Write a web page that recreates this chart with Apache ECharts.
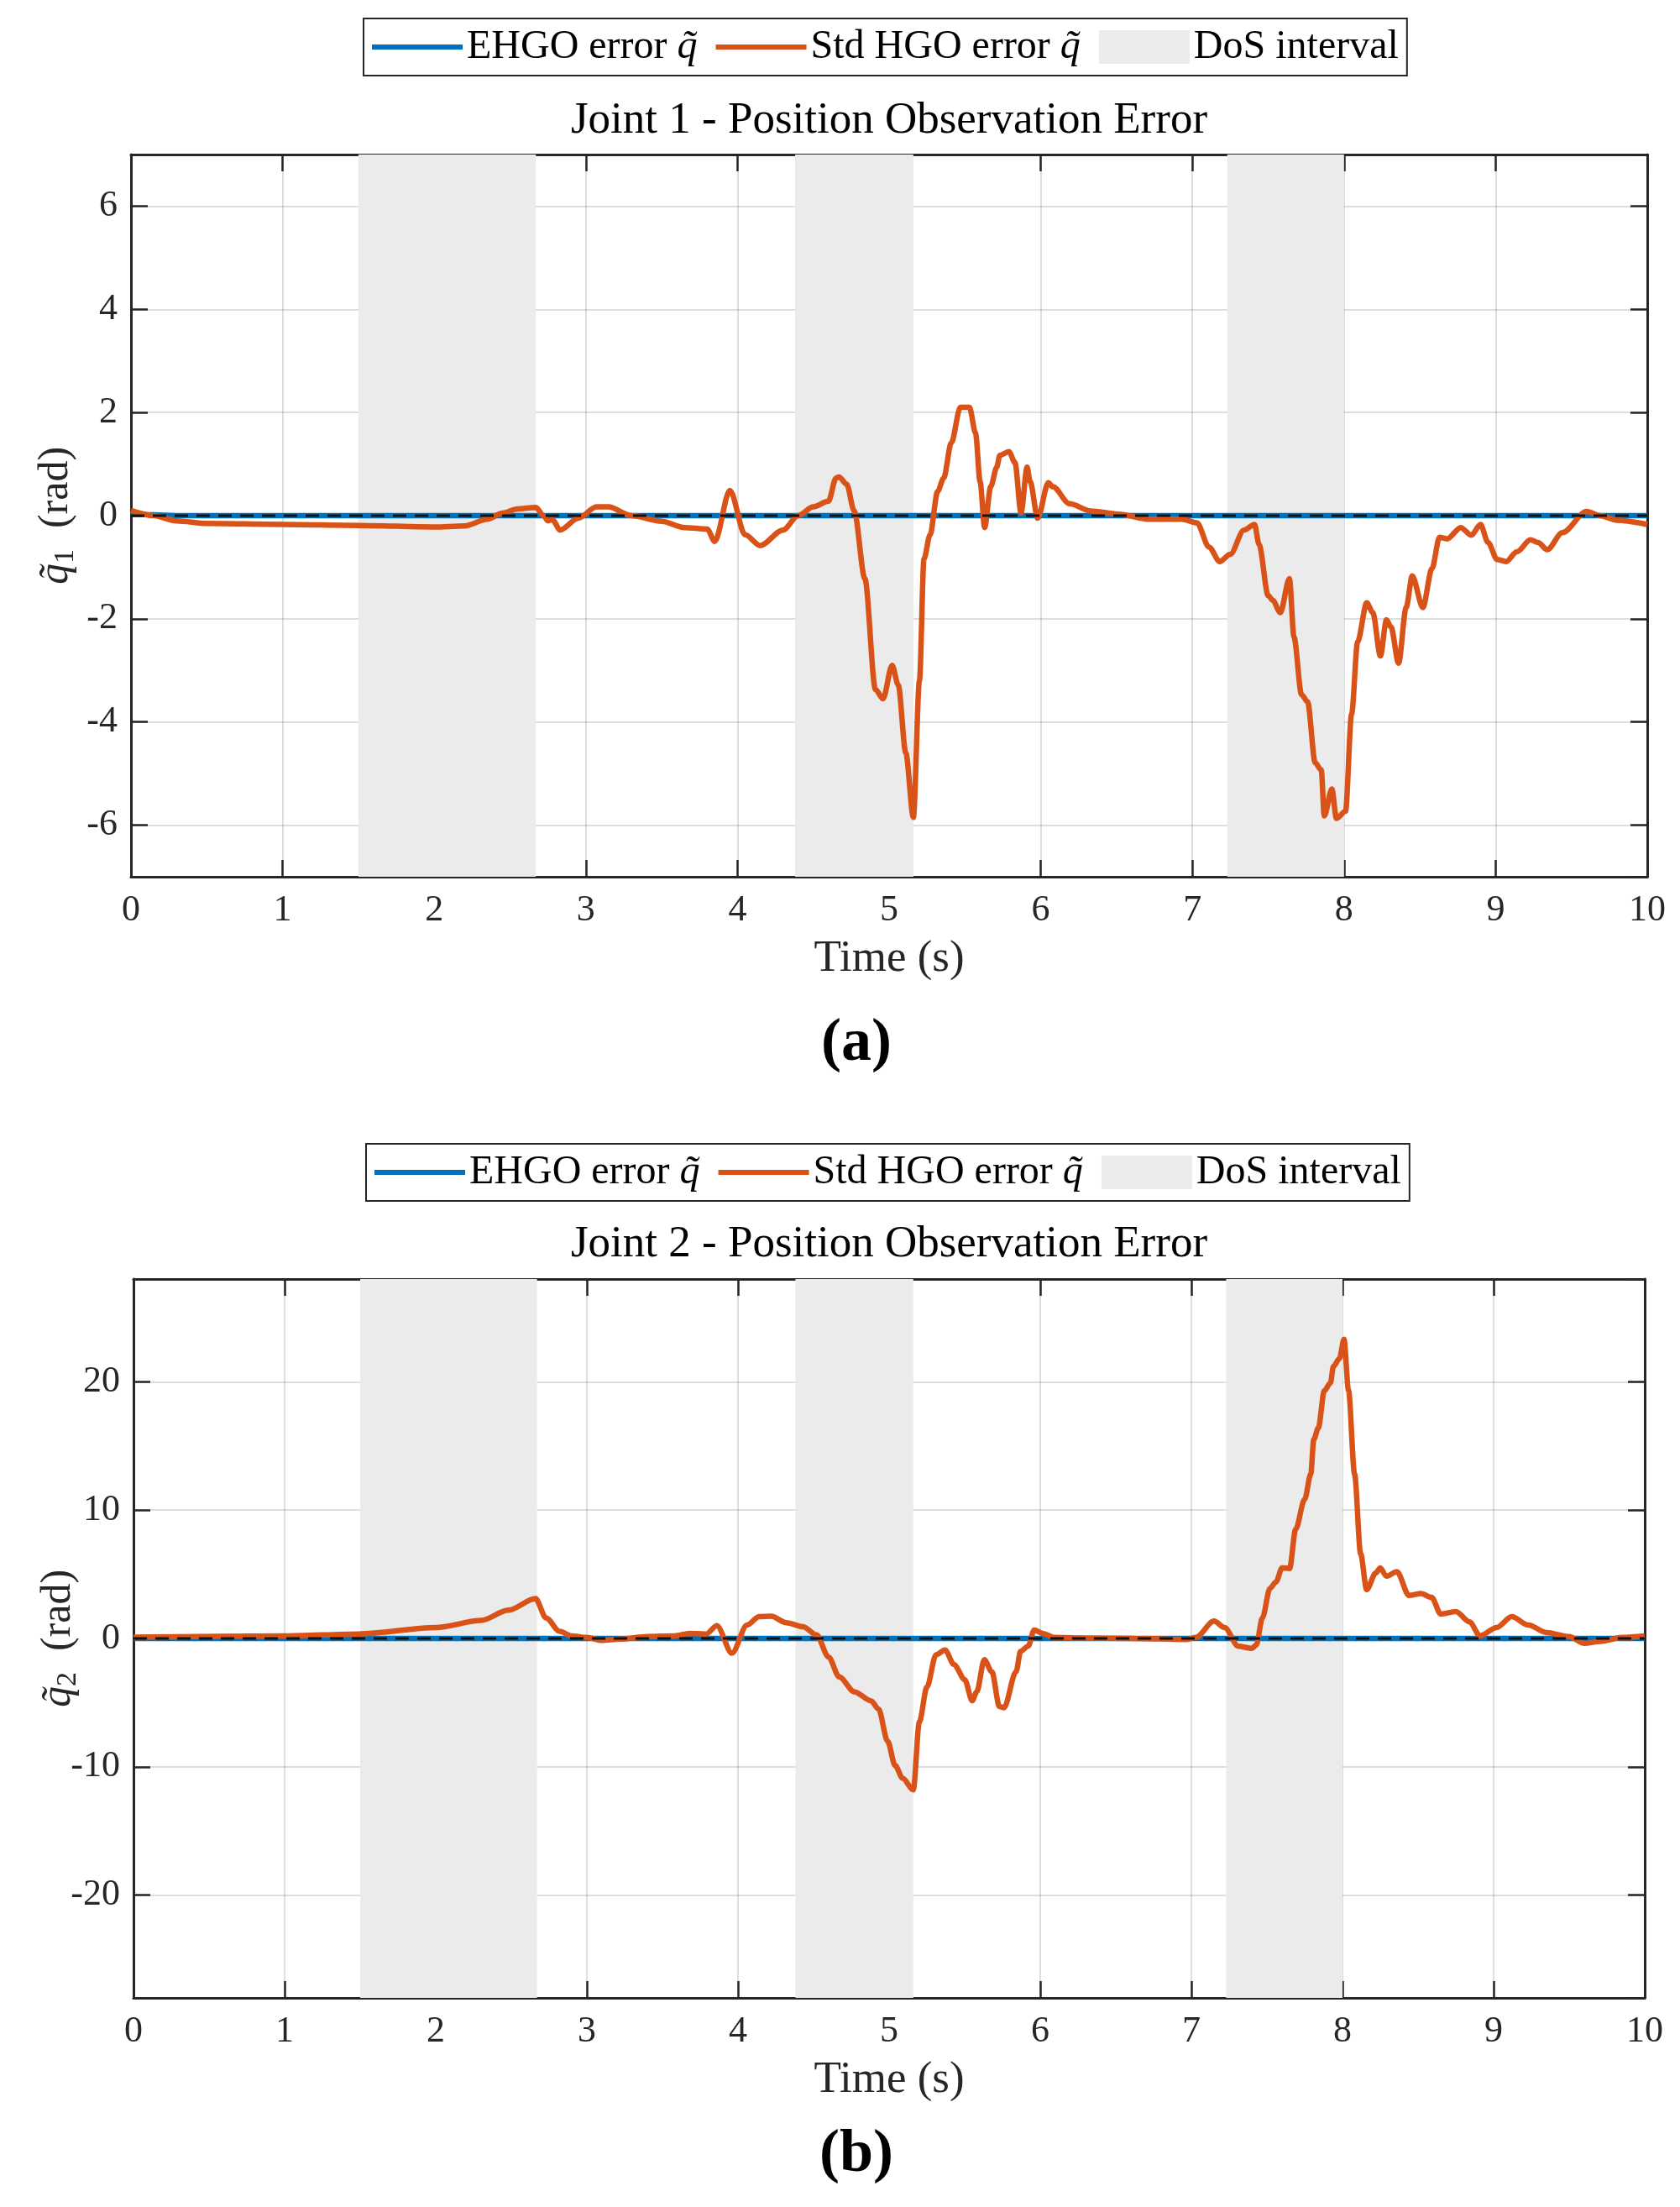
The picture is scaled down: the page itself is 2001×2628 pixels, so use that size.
<!DOCTYPE html>
<html lang="en">
<head>
<meta charset="UTF-8">
<title>Joint position observation error</title>
<script src="https://cdn.jsdelivr.net/npm/echarts@6/dist/echarts.min.js"></script>
<style>
html, body { margin: 0; padding: 0; background: #fff; }
#chart { width: 2001px; height: 2628px; }
</style>
</head>
<body>
<div id="chart"></div>
<script>
// DoS intervals (s), same for both joints
var dosStart = [1.5, 4.38, 7.23];
var dosEnd = [2.67, 5.16, 8.0];

// joint 1, standard HGO error (rad)
var hgoTime1 = [0, 0.15, 0.3, 0.5, 1.0, 1.5, 2.0, 2.2, 2.35, 2.45, 2.55, 2.67, 2.72, 2.75, 2.78, 2.83, 2.95, 3.07, 3.15, 3.3,
  3.5, 3.65, 3.8, 3.85, 3.95, 4.05, 4.15, 4.3, 4.4, 4.5, 4.6, 4.65, 4.67, 4.72, 4.77, 4.84, 4.91, 4.96, 5.02, 5.06,
  5.11, 5.16, 5.2, 5.23, 5.27, 5.32, 5.36, 5.41, 5.47, 5.53, 5.57, 5.60, 5.63, 5.67, 5.71, 5.73, 5.79, 5.83, 5.87, 5.91,
  5.93, 5.98, 6.05, 6.08, 6.19, 6.33, 6.51, 6.72, 6.93, 7.03, 7.11, 7.18, 7.25, 7.34, 7.41, 7.44, 7.50, 7.53, 7.58, 7.64,
  7.67, 7.72, 7.76, 7.81, 7.85, 7.87, 7.92, 7.95, 8.01, 8.05, 8.09, 8.15, 8.19, 8.24, 8.28, 8.31, 8.36, 8.41, 8.45, 8.52,
  8.58, 8.63, 8.68, 8.77, 8.84, 8.90, 8.95, 9.01, 9.07, 9.14, 9.23, 9.28, 9.34, 9.44, 9.60, 9.69, 9.80, 10];
var hgoErr1 = [0.1, 0.0, -0.1, -0.15, -0.17, -0.19, -0.22, -0.2, -0.07, 0.05, 0.13, 0.16, 0.0, -0.1, -0.08, -0.28, -0.05, 0.17, 0.17, 0.0,
  -0.11, -0.23, -0.26, -0.5, 0.49, -0.37, -0.58, -0.28, 0.0, 0.17, 0.28, 0.73, 0.75, 0.61, 0.09, -1.22, -3.37, -3.55, -2.9, -3.28,
  -4.6, -5.85, -3.2, -0.84, -0.37, 0.47, 0.73, 1.41, 2.1, 2.1, 1.6, 0.66, -0.23, 0.56, 0.94, 1.17, 1.24, 1.03, 0.05, 0.94,
  0.66, -0.05, 0.64, 0.56, 0.23, 0.09, 0.03, -0.07, -0.07, -0.14, -0.61, -0.89, -0.75, -0.28, -0.17, -0.56, -1.55, -1.64, -1.88, -1.22,
  -2.35, -3.47, -3.61, -4.79, -4.93, -5.82, -5.3, -5.87, -5.73, -3.85, -2.44, -1.69, -1.88, -2.72, -2.02, -2.16, -2.86, -1.78, -1.17, -1.78,
  -1.03, -0.42, -0.45, -0.23, -0.38, -0.17, -0.52, -0.85, -0.89, -0.7, -0.47, -0.52, -0.66, -0.33, 0.08, 0, -0.09, -0.17];

// joint 2, standard HGO error (rad)
var hgoTime2 = [0, 1, 1.49, 2, 2.3, 2.48, 2.66, 2.73, 2.82, 2.9, 3, 3.1, 3.22, 3.4, 3.58, 3.68, 3.79, 3.86, 3.96, 4.06,
  4.14, 4.22, 4.32, 4.43, 4.52, 4.6, 4.67, 4.77, 4.88, 4.93, 4.99, 5.04, 5.09, 5.16, 5.2, 5.25, 5.31, 5.37, 5.43, 5.5,
  5.55, 5.58, 5.63, 5.68, 5.73, 5.76, 5.84, 5.87, 5.92, 5.96, 6.02, 6.09, 6.26, 6.62, 6.97, 7.03, 7.15, 7.22, 7.31, 7.4,
  7.43, 7.47, 7.52, 7.56, 7.6, 7.65, 7.69, 7.75, 7.79, 7.81, 7.84, 7.88, 7.92, 7.94, 7.98, 8.01, 8.04, 8.08, 8.12, 8.16,
  8.22, 8.25, 8.29, 8.36, 8.44, 8.52, 8.59, 8.65, 8.75, 8.84, 8.91, 9.02, 9.12, 9.23, 9.35, 9.5, 9.6, 9.71, 9.85, 10];
var hgoErr2 = [0.1, 0.2, 0.35, 0.85, 1.4, 2.2, 3.1, 1.6, 0.55, 0.2, 0.08, -0.15, -0.05, 0.15, 0.2, 0.4, 0.35, 1.0, -1.15, 1.04,
  1.7, 1.73, 1.23, 0.92, 0.27, -1.46, -3.0, -4.15, -4.85, -5.5, -8.0, -9.9, -10.9, -11.8, -6.5, -3.8, -1.27, -0.9, -2.04, -3.2,
  -4.85, -4.15, -1.65, -2.6, -5.3, -5.4, -2.6, -1.0, -0.6, 0.65, 0.38, 0.08, 0.04, 0, -0.08, 0.08, 1.35, 0.85, -0.6, -0.77,
  -0.5, 1.6, 3.9, 4.4, 5.5, 5.45, 8.5, 10.85, 12.8, 15.5, 16.4, 19.3, 19.9, 21.2, 21.8, 23.3, 19.3, 12.8, 6.6, 3.8,
  5.1, 5.5, 4.85, 5.2, 3.35, 3.5, 3.2, 1.9, 2.1, 1.3, 0.2, 0.85, 1.7, 1.04, 0.46, 0.15, -0.38, -0.23, 0.08, 0.2];

// EHGO error stays on zero
var ehgoTime1 = [0, 0.1, 0.3, 10];
var ehgoErr1 = [0.06, 0.02, 0, 0];
var ehgoTime2 = [0, 10];
var ehgoErr2 = [0, 0];

var zeroTime = [0, 10];
var zeroVal = [0, 0];
var yRange1 = [-7, 7];
var yRange2 = [-28, 28];

function zip(a, b) {
  var out = [];
  for (var i = 0; i < a.length; i++) out.push([a[i], b[i]]);
  return out;
}

var FONT = 'Liberation Serif';
var INK = '#262626';
var BLUE = '#0072BD';
var ORANGE = '#D95319';
var SHADE = '#EBEBEB';
var LINE_ICON = 'path://M0,0 L108,0 L108,6 L0,6 Z';

var NAME_E = 'EHGO error q̃';
var NAME_S = 'Std HGO error q̃';
var NAME_D = 'DoS interval';

var grids = [
  { left: 156, right: 39, top: 184, height: 860 },
  { left: 159, right: 42, top: 1523, height: 856 }
];

function legendFor(top, left) {
  return {
    top: top, left: left,
    orient: 'horizontal',
    itemWidth: 108, itemHeight: 40, itemGap: 22,
    padding: [10, 10, 10, 10],
    borderColor: INK, borderWidth: 2, borderRadius: 0,
    backgroundColor: '#fff',
    selectedMode: false,
    data: [
      { name: NAME_E, icon: LINE_ICON },
      { name: NAME_S, icon: LINE_ICON },
      { name: NAME_D, icon: 'rect', itemStyle: { color: SHADE } }
    ],
    formatter: function (n) {
      if (n === NAME_D) return '{t|DoS interval}';
      var base = n.replace(' q̃', ' ');
      return '{t|' + base + '}{q|q̃}';
    },
    textStyle: {
      fontFamily: FONT, fontSize: 48, color: '#000',
      rich: {
        t: { fontFamily: FONT, fontSize: 48, color: '#000' },
        q: { fontFamily: FONT, fontSize: 48, fontStyle: 'italic', color: '#000' }
      }
    }
  };
}

function xAxes(idx) {
  return [{
    type: 'value', gridIndex: idx, position: 'bottom',
    min: 0, max: 10, interval: 1,
    name: 'Time (s)', nameLocation: 'middle', nameGap: 72,
    nameTextStyle: { fontFamily: FONT, fontSize: 53, color: INK },
    axisLine: { show: true, onZero: false, lineStyle: { color: INK, width: 3 } },
    axisTick: { inside: true, length: 20, lineStyle: { color: INK, width: 2.5 } },
    axisLabel: { fontFamily: FONT, fontSize: 44, color: INK, margin: 18 },
    splitLine: { show: true, lineStyle: { color: 'rgba(0,0,0,0.13)', width: 2 } }
  }, {
    type: 'value', gridIndex: idx, position: 'top',
    min: 0, max: 10, interval: 1,
    axisLine: { show: true, onZero: false, lineStyle: { color: INK, width: 3 } },
    axisTick: { inside: true, length: 20, lineStyle: { color: INK, width: 2.5 } },
    axisLabel: { show: false },
    splitLine: { show: false }
  }];
}

function yAxes(idx, range, split, sub) {
  return [{
    type: 'value', gridIndex: idx, position: 'left',
    min: range[0], max: range[1], splitNumber: split,
    name: '{q|q̃}{s|' + sub + '}{r|  (rad)}', nameLocation: 'middle', nameGap: 61, nameRotate: 90,
    nameMoveOverlap: false,
    nameTextStyle: {
      fontFamily: FONT, fontSize: 50, color: INK,
      rich: {
        q: { fontFamily: FONT, fontSize: 50, fontStyle: 'italic', color: INK, lineHeight: 56, verticalAlign: 'middle' },
        s: { fontFamily: FONT, fontSize: 34, color: INK, lineHeight: 56, verticalAlign: 'bottom' },
        r: { fontFamily: FONT, fontSize: 50, color: INK, lineHeight: 56, verticalAlign: 'middle' }
      }
    },
    axisLine: { show: true, onZero: false, lineStyle: { color: INK, width: 3 } },
    axisTick: { inside: true, length: 20, lineStyle: { color: INK, width: 2.5 } },
    axisLabel: { fontFamily: FONT, fontSize: 44, color: INK, margin: 16, showMinLabel: false, showMaxLabel: false },
    splitLine: { show: true, lineStyle: { color: 'rgba(0,0,0,0.13)', width: 2 } }
  }, {
    type: 'value', gridIndex: idx, position: 'right',
    min: range[0], max: range[1], splitNumber: split,
    axisLine: { show: true, onZero: false, lineStyle: { color: INK, width: 3 } },
    axisTick: { inside: true, length: 20, lineStyle: { color: INK, width: 2.5 } },
    axisLabel: { show: false },
    splitLine: { show: false }
  }];
}

function seriesFor(idx, ehgo, hgo) {
  var areas = [];
  for (var i = 0; i < dosStart.length; i++) {
    areas.push([{ xAxis: dosStart[i] }, { xAxis: dosEnd[i] }]);
  }
  var xi = idx * 2, yi = idx * 2;
  return [{
    name: NAME_D, type: 'line', xAxisIndex: xi, yAxisIndex: yi,
    data: [], z: -1, silent: true,
    itemStyle: { color: SHADE }, lineStyle: { color: SHADE },
    markArea: { silent: true, itemStyle: { color: SHADE }, data: areas }
  }, {
    name: NAME_E, type: 'line', xAxisIndex: xi, yAxisIndex: yi,
    data: ehgo, showSymbol: false, symbol: 'none', z: 3,
    lineStyle: { color: BLUE, width: 6.5 }, itemStyle: { color: BLUE }
  }, {
    name: NAME_S, type: 'line', xAxisIndex: xi, yAxisIndex: yi,
    data: hgo, showSymbol: false, symbol: 'none', z: 4,
    smooth: 0.3, smoothMonotone: 'x',
    lineStyle: { color: ORANGE, width: 6.5 }, itemStyle: { color: ORANGE }
  }, {
    name: 'zero', type: 'line', xAxisIndex: xi, yAxisIndex: yi,
    data: zip(zeroTime, zeroVal), showSymbol: false, symbol: 'none', z: 5,
    lineStyle: { color: '#111', width: 3, type: [16, 10] }
  }];
}

var chart = echarts.init(document.getElementById('chart'), null, { renderer: 'canvas' });

chart.setOption({
  animation: false,
  backgroundColor: '#fff',
  legend: [legendFor(22, 433), legendFor(1362, 436)],
  grid: grids,
  xAxis: xAxes(0).concat(xAxes(1)),
  yAxis: yAxes(0, yRange1, 7, '1').concat(yAxes(1, yRange2, 6, '2')),
  series: seriesFor(0, zip(ehgoTime1, ehgoErr1), zip(hgoTime1, hgoErr1))
    .concat(seriesFor(1, zip(ehgoTime2, ehgoErr2), zip(hgoTime2, hgoErr2))),
  graphic: [
    { type: 'text', x: 1059, y: 144, style: { text: 'Joint 1 - Position Observation Error', font: '53px "Liberation Serif"', fill: '#000', textAlign: 'center', textVerticalAlign: 'middle' } },
    { type: 'text', x: 1059, y: 1482, style: { text: 'Joint 2 - Position Observation Error', font: '53px "Liberation Serif"', fill: '#000', textAlign: 'center', textVerticalAlign: 'middle' } },
    { type: 'text', x: 1020, y: 1243, style: { text: '(a)', font: 'bold 72px "Liberation Serif"', fill: '#000', textAlign: 'center', textVerticalAlign: 'middle' } },
    { type: 'text', x: 1020, y: 2566, style: { text: '(b)', font: 'bold 72px "Liberation Serif"', fill: '#000', textAlign: 'center', textVerticalAlign: 'middle' } }
  ]
});
</script>
</body>
</html>
